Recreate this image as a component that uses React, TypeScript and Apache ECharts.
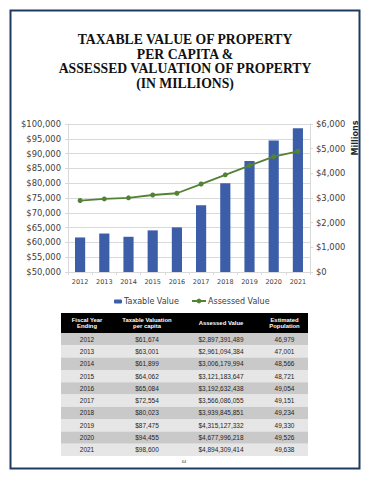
import React, { useEffect, useRef } from "react";
import * as echarts from "echarts";

const years = ["2012", "2013", "2014", "2015", "2016", "2017", "2018", "2019", "2020", "2021"];
const taxablePerCapita = [61674, 63001, 61899, 64062, 65084, 72554, 80023, 87475, 94455, 98600];
const assessedValue = [
  2897391489, 2961094384, 3006179994, 3121183647, 3192632438,
  3566086055, 3939845851, 4315127332, 4677996218, 4894309414,
];
const population = [46979, 47001, 48566, 48721, 49054, 49151, 49234, 49330, 49526, 49638];
const assessedMillions = assessedValue.map((v) => v / 1e6);

const titleLines = [
  "TAXABLE VALUE OF PROPERTY",
  "PER CAPITA &",
  "ASSESSED VALUATION OF PROPERTY",
  "(IN MILLIONS)",
];
const tableHeaders = [
  "Fiscal Year\nEnding",
  "Taxable Valuation\nper capita",
  "Assessed Value",
  "Estimated\nPopulation",
];
const pageNumber = "64";

const fmt = (n: number) => n.toLocaleString("en-US");

export default function App() {
  const ref = useRef<HTMLDivElement>(null);
  useEffect(() => {
    if (!ref.current) return;
    const chart = echarts.init(ref.current, null, { renderer: "svg" });

    // table layout
    const tX = 61;
    const colW = [52, 68, 80, 47];
    const colX: number[] = [];
    let acc = tX;
    colW.forEach((w) => {
      colX.push(acc);
      acc += w;
    });
    const tW = acc - tX;
    const headY = 313;
    const headH = 20;
    const rowH = 12.3;
    const tableEls: any[] = [];
    tableEls.push({
      type: "rect",
      shape: { x: tX, y: headY, width: tW, height: headH },
      style: { fill: "#000000" },
    });
    tableHeaders.forEach((h, i) => {
      tableEls.push({
        type: "text",
        x: colX[i] + colW[i] / 2,
        y: headY + headH / 2,
        style: {
          text: h,
          fill: "#ffffff",
          font: "bold 5.9px 'Liberation Sans', Arial, sans-serif",
          lineHeight: 6.8,
          align: "center",
          verticalAlign: "middle",
        },
      });
    });
    years.forEach((yr, r) => {
      const y = headY + headH + r * rowH;
      tableEls.push({
        type: "rect",
        shape: { x: tX, y, width: tW, height: rowH },
        style: { fill: r % 2 === 0 ? "#c9c9c9" : "#e6e6e6" },
      });
      const cells = [
        yr,
        "$" + fmt(taxablePerCapita[r]),
        "$" + fmt(assessedValue[r]),
        fmt(population[r]),
      ];
      cells.forEach((c, i) => {
        tableEls.push({
          type: "text",
          x: colX[i] + colW[i] / 2,
          y: y + rowH / 2,
          style: {
            text: c,
            fill: "#1f1f1f",
            font: "6.5px 'Liberation Sans', Arial, sans-serif",
            align: "center",
            verticalAlign: "middle",
          },
        });
      });
    });

    const axisFont = "'DejaVu Sans', Verdana, sans-serif";

    chart.setOption({
      animation: false,
      backgroundColor: "#ffffff",
      grid: { left: 68, right: 60, top: 124, bottom: 208 },
      legend: [
        {
          data: ["Taxable Value"],
          left: 114,
          top: 297.5,
          itemWidth: 8,
          itemHeight: 4,
          itemGap: 0,
          padding: 0,
          textStyle: { fontFamily: axisFont, fontSize: 8, color: "#404040", padding: [0, 0, 0, -3] },
        },
        {
          data: ["Assessed Value"],
          left: 191,
          top: 297,
          itemWidth: 14,
          itemHeight: 6,
          padding: 0,
          textStyle: { fontFamily: axisFont, fontSize: 8, color: "#404040", padding: [0, 0, 0, -3] },
        },
      ],
      xAxis: {
        type: "category",
        data: years,
        axisLine: { lineStyle: { color: "#d9d9d9" } },
        axisTick: { show: true, length: 3, lineStyle: { color: "#d9d9d9" } },
        axisLabel: { fontFamily: axisFont, fontSize: 6.5, color: "#404040", margin: 6 },
      },
      yAxis: [
        {
          type: "value",
          min: 50000,
          max: 100000,
          interval: 5000,
          axisLine: { show: true, lineStyle: { color: "#d9d9d9" } },
          axisTick: { show: true, length: 3, lineStyle: { color: "#d9d9d9" } },
          splitLine: { lineStyle: { color: "#d9d9d9" } },
          axisLabel: {
            fontFamily: axisFont,
            fontSize: 8.4,
            color: "#404040",
            margin: 7,
            formatter: (v: number) => "$" + fmt(v),
          },
        },
        {
          type: "value",
          min: 0,
          max: 6000,
          interval: 1000,
          position: "right",
          axisLine: { show: true, lineStyle: { color: "#d9d9d9" } },
          axisTick: { show: true, length: 3, lineStyle: { color: "#d9d9d9" } },
          splitLine: { show: false },
          axisLabel: {
            fontFamily: axisFont,
            fontSize: 8.4,
            color: "#404040",
            margin: 6,
            formatter: (v: number) => "$" + fmt(v),
          },
        },
      ],
      series: [
        {
          name: "Taxable Value",
          type: "bar",
          data: taxablePerCapita,
          barWidth: "42%",
          itemStyle: { color: "#3c5ea9" },
          yAxisIndex: 0,
        },
        {
          name: "Assessed Value",
          type: "line",
          data: assessedMillions,
          yAxisIndex: 1,
          symbol: "circle",
          symbolSize: 5,
          lineStyle: { color: "#548235", width: 1.8 },
          itemStyle: { color: "#548235" },
        },
      ],
      graphic: [
        {
          type: "rect",
          shape: { x: 10.5, y: 10.5, width: 349, height: 458 },
          style: { fill: "none", stroke: "#1f3a5f", lineWidth: 2 },
          silent: true,
        },
        {
          type: "text",
          x: 185,
          y: 32,
          style: {
            text: titleLines.join("\n"),
            font: "bold 13.7px 'Liberation Serif', 'Times New Roman', serif",
            lineHeight: 14.7,
            fill: "#111111",
            align: "center",
            verticalAlign: "top",
          },
        },
        {
          type: "text",
          x: 355,
          y: 138,
          rotation: Math.PI / 2,
          style: {
            text: "Millions",
            font: "bold 8px 'DejaVu Sans', Verdana, sans-serif",
            fill: "#262626",
            align: "center",
            verticalAlign: "middle",
          },
        },
        ...tableEls,
        {
          type: "text",
          x: 184,
          y: 461,
          style: {
            text: pageNumber,
            font: "4px 'Liberation Sans', Arial, sans-serif",
            fill: "#333333",
            align: "center",
            verticalAlign: "middle",
          },
        },
      ],
    });
    return () => chart.dispose();
  }, []);
  return (
    <div
      ref={ref}
      style={{ position: "fixed", left: 0, top: 0, width: 370, height: 480, background: "#fff" }}
    />
  );
}
